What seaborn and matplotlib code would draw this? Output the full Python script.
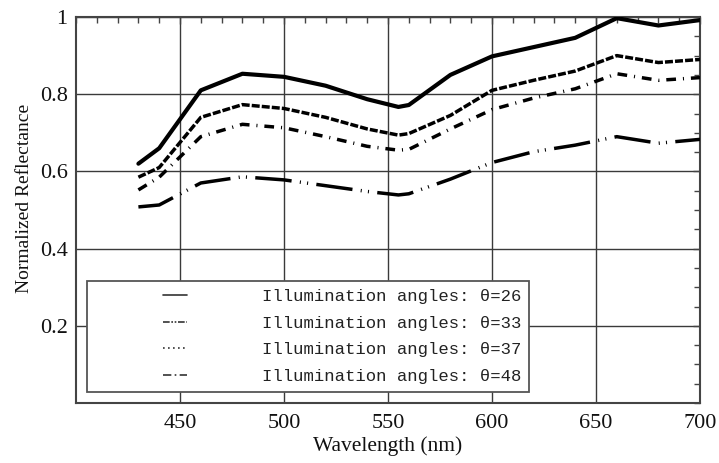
import numpy as np
import pandas as pd
import matplotlib
matplotlib.use("Agg")
import matplotlib.pyplot as plt
import seaborn as sns
from matplotlib.lines import Line2D
from matplotlib.legend_handler import HandlerLine2D
from matplotlib.ticker import MultipleLocator, FixedLocator, FixedFormatter

# ---- data ----
wavelength = [430, 440, 460, 480, 500, 520, 540, 555, 560, 580, 600, 620, 640, 660, 680, 700]
theta26 = [0.620, 0.660, 0.810, 0.853, 0.845, 0.822, 0.787, 0.767, 0.772, 0.850, 0.898, 0.922, 0.946, 0.997, 0.978, 0.992]
theta33 = [0.585, 0.610, 0.740, 0.773, 0.763, 0.740, 0.710, 0.694, 0.698, 0.745, 0.810, 0.836, 0.860, 0.900, 0.882, 0.890]
theta37 = [0.552, 0.585, 0.690, 0.722, 0.713, 0.690, 0.665, 0.655, 0.657, 0.710, 0.760, 0.790, 0.814, 0.853, 0.836, 0.843]
theta48 = [0.508, 0.513, 0.570, 0.586, 0.578, 0.563, 0.548, 0.539, 0.542, 0.580, 0.623, 0.651, 0.668, 0.690, 0.673, 0.683]
labels = ["Illumination angles: \u03b8=26", "Illumination angles: \u03b8=33",
          "Illumination angles: \u03b8=37", "Illumination angles: \u03b8=48"]
xticks = [450, 500, 550, 600, 650, 700]
yticks = [0.2, 0.4, 0.6, 0.8, 1.0]
ytick_labels = ["0.2", "0.4", "0.6", "0.8", "1"]

sns.set_theme(style="white")
plt.rcParams["font.family"] = ["Liberation Serif", "DejaVu Serif"]

fig = plt.figure(figsize=(7.19, 4.63), dpi=100)
ax = fig.add_axes([76/719, 1-403/463, 624/719, 386/463])

series = [theta26, theta33, theta37, theta48]
styles = [
    dict(linestyle="-", linewidth=3.0),
    dict(linestyle=(0, (2.3, 0.6)), linewidth=2.5),
    dict(linestyle=(0, (2.8, 2.0, 0.3, 2.0)), linewidth=2.5),
    dict(linestyle=(0, (10.5, 2.4, 0.3, 1.8, 0.3, 2.4)), linewidth=2.5),
]
for vals, st in zip(series, styles):
    df = pd.DataFrame({"Wavelength": wavelength, "Reflectance": vals})
    sns.lineplot(data=df, x="Wavelength", y="Reflectance", ax=ax, color="black",
                 legend=False, dash_capstyle="butt", zorder=3, **st)

ax.set_xlim(400, 700)
ax.set_ylim(0, 1)
ax.xaxis.set_major_locator(FixedLocator(xticks))
ax.xaxis.set_minor_locator(MultipleLocator(10))
ax.yaxis.set_major_locator(FixedLocator(yticks))
ax.yaxis.set_major_formatter(FixedFormatter(ytick_labels))
ax.yaxis.set_minor_locator(MultipleLocator(0.05))
ax.grid(True, which="major", color="#3a3a3a", linewidth=1.0)
ax.set_axisbelow(True)
ax.tick_params(which="both", direction="in", top=True, right=True, colors="#444444",
               labelcolor="#111111", labelsize=16)
ax.tick_params(which="major", length=5, width=1)
ax.tick_params(which="minor", length=4, width=1)
ax.tick_params(axis="x", pad=8)
ax.tick_params(axis="y", pad=6)
for s in ax.spines.values():
    s.set_color("#444444")
    s.set_linewidth(1.5)
ax.set_xlabel("Wavelength (nm)", fontsize=15.5, color="#111111")
ax.set_ylabel("Normalized Reflectance", fontsize=14, color="#111111")
ax.xaxis.set_label_coords(0.5, (403-436)/386)
ax.yaxis.set_label_coords((33-76)/624, (403-198)/386)


class OffsetHandler(HandlerLine2D):
    def create_artists(self, legend, orig_handle, xdescent, ydescent, width, height, fontsize, trans):
        y = (height - ydescent) / 2.0
        line = Line2D(-xdescent + np.array([0.446, 0.603]) * width, [y, y])
        self.update_prop(line, orig_handle, legend)
        line.set_transform(trans)
        return [line]


leg_styles = ["-", (0, (4, 1, 1, 1, 1, 1)), (0, (1, 2)), (0, (5, 2, 1, 2))]
handles = [Line2D([0], [0], color="#333333", linewidth=1.2, linestyle=ls) for ls in leg_styles]
leg = ax.legend(handles, labels, loc="upper left", bbox_to_anchor=((87-76)/624, (403-281)/386),
                borderaxespad=0, frameon=True, fancybox=False, framealpha=1,
                edgecolor="#555555", handlelength=8.9, handletextpad=0.8, borderpad=0.45,
                labelspacing=0.68, prop={"family": "Liberation Mono", "size": 12.4},
                handler_map={h: OffsetHandler() for h in handles})
leg.get_frame().set_linewidth(1.3)
for t in leg.get_texts():
    t.set_color("#222222")
leg.set_zorder(5)

fig.savefig("out.png", dpi=100)
